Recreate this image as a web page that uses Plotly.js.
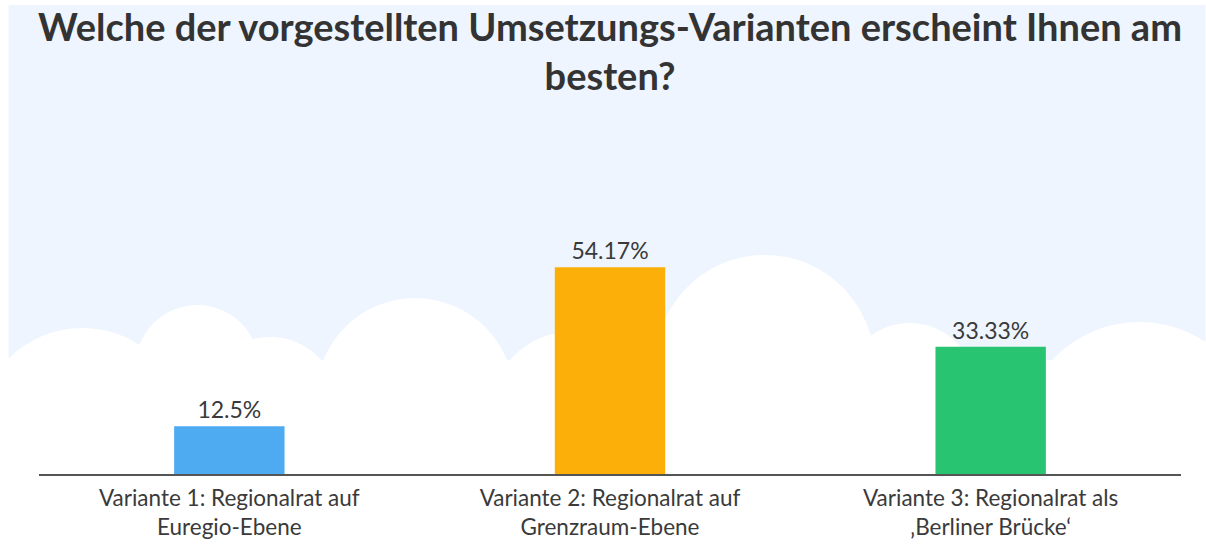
<!DOCTYPE html>
<html>
<head>
<meta charset="utf-8">
<script src="https://cdn.plot.ly/plotly-3.0.1.min.js"></script>
<style>html,body{margin:0;padding:0;background:#fff;}#chart{width:1206px;height:548px;}</style>
</head>
<body>
<div id="chart"></div>
<script>
// ---- data ----
const categories = [
  "Variante 1: Regionalrat auf<br>Euregio-Ebene",
  "Variante 2: Regionalrat auf<br>Grenzraum-Ebene",
  "Variante 3: Regionalrat als<br>‚Berliner Brücke‘"
];
const values = [12.5, 54.17, 33.33];
const valueLabels = ["12.5%", "54.17%", "33.33%"];
const barColors = ["#4FABF1", "#FDAF09", "#29C472"];
const chartTitle = "Welche der vorgestellten Umsetzungs-Varianten erscheint Ihnen am<br>besten?";

// ---- layout geometry (pixels) ----
const W = 1206, H = 548;
const M = {l: 38.5, r: 24.5, t: 245, b: 74};
const PW = W - M.l - M.r, PH = H - M.t - M.b;
const xp = px => (px - M.l) / PW;
const yp = py => (H - M.b - py) / PH;

// decorative background: sky + clouds
const sky = "#EEF5FE";
const cloudCircles = [
  [82, 433, 105], [197, 367, 62], [270, 405, 68], [415, 397, 99],
  [570, 410, 78], [765, 365, 110], [910, 389, 66], [1140, 442, 120]
];
const shapes = [];
shapes.push({type: "rect", xref: "paper", yref: "paper", layer: "below",
  x0: xp(8), x1: xp(1206), y0: yp(420), y1: yp(5), fillcolor: sky, line: {width: 0}});
cloudCircles.forEach(([cx, cy, r]) => shapes.push({type: "circle", xref: "paper", yref: "paper", layer: "below",
  x0: xp(cx - r), x1: xp(cx + r), y0: yp(cy + r), y1: yp(cy - r), fillcolor: "#FFFFFF", line: {width: 0}}));
shapes.push({type: "rect", xref: "paper", yref: "paper", layer: "below",
  x0: xp(0), x1: xp(1206), y0: yp(548), y1: yp(360), fillcolor: "#FFFFFF", line: {width: 0}});

const trace = {
  type: "bar",
  x: categories,
  y: values,
  text: valueLabels,
  textposition: "outside",
  textfont: {family: "Lato, 'Noto Sans', sans-serif", size: 23, color: "#3A3A3A"},
  cliponaxis: false,
  marker: {color: barColors, line: {width: 0}},
  hoverinfo: "none"
};

const layout = {
  width: W, height: H,
  margin: M,
  paper_bgcolor: "#FFFFFF",
  plot_bgcolor: "rgba(0,0,0,0)",
  showlegend: false,
  bargap: 0.71,
  shapes: shapes,
  title: {
    text: chartTitle,
    font: {family: "Lato, 'Noto Sans', sans-serif", size: 38, color: "#333333", weight: "bold"},
    x: 0.5, xanchor: "center", xref: "paper",
    y: 1 - 41 / H, yanchor: "top", yref: "container"
  },
  xaxis: {
    showline: true, linecolor: "#555555", linewidth: 1.5,
    ticks: "", showgrid: false, zeroline: false,
    tickfont: {family: "Lato, 'Noto Sans', sans-serif", size: 22.5, color: "#3A3A3A"},
    ticklabelstandoff: 3
  },
  yaxis: {
    range: [0, 60], visible: false, showgrid: false, zeroline: false
  }
};

Plotly.newPlot("chart", [trace], layout, {displayModeBar: false, staticPlot: true});
</script>
</body>
</html>
